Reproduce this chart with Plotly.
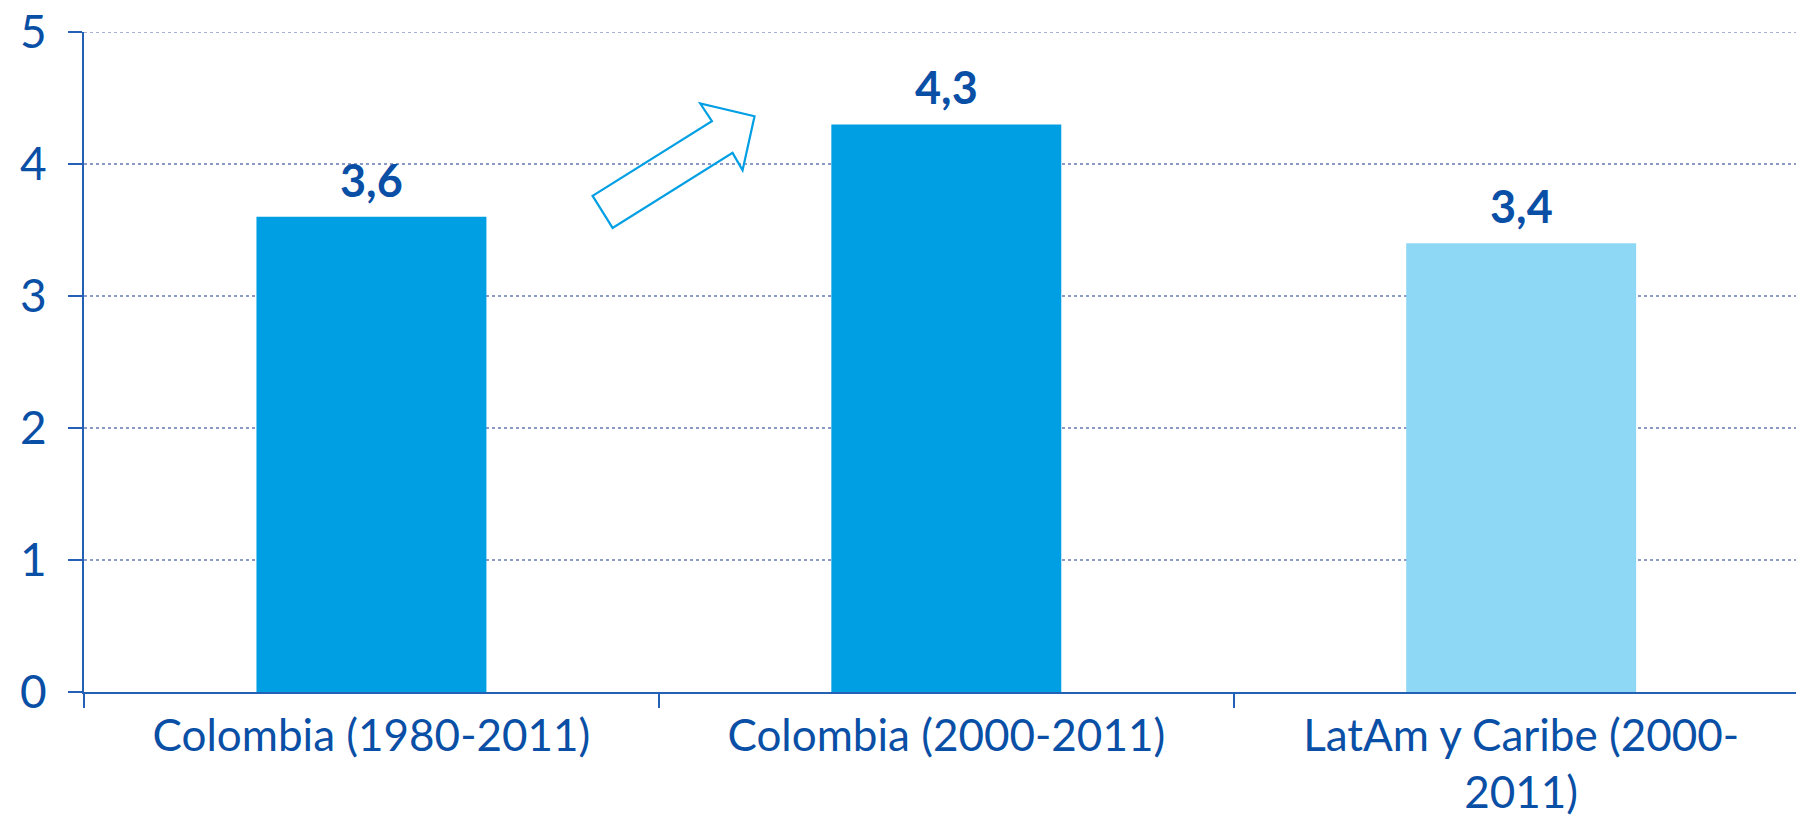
import plotly.graph_objects as go

# Average annual growth (%)
categories = ["Colombia (1980-2011)", "Colombia (2000-2011)", "LatAm y Caribe (2000-<br>2011)"]
values = [3.6, 4.3, 3.4]
bar_colors = ["#009FE3", "#009FE3", "#8ED8F6"]
y_ticks = [0, 1, 2, 3, 4, 5]

DARK = "#0A4FA6"
AXIS = "#2460B5"
GRID = "#8C9AC6"
FONT = "Lato"

fig = go.Figure()
fig.add_trace(go.Bar(
    x=categories,
    y=values,
    marker=dict(color=bar_colors, line=dict(width=0)),
    width=0.4,
    hoverinfo="skip",
))

# value labels above each bar
for c, v in zip(categories, values):
    fig.add_annotation(
        x=c, y=v, text=f"<b>{v:.1f}</b>".replace(".", ","),
        showarrow=False, yanchor="bottom", yshift=8,
        font=dict(family=FONT, size=45, color=DARK),
    )

# hollow arrow between the two Colombia bars (data coordinates)
arrow_x = [0.3847, 0.5923, 0.5720, 0.6664, 0.6456, 0.6282, 0.4195]
arrow_y = [3.758, 4.324, 4.458, 4.362, 3.953, 4.084, 3.516]
path = "M " + " L ".join(f"{x},{y}" for x, y in zip(arrow_x, arrow_y)) + " Z"
fig.add_shape(type="path", path=path, xref="x", yref="y",
              line=dict(color="#009FE3", width=2.2), fillcolor="rgba(0,0,0,0)")

# dotted gridline at the top of the value range
fig.add_shape(type="line", xref="paper", yref="y", x0=0, x1=1,
              y0=max(y_ticks), y1=max(y_ticks),
              line=dict(color=GRID, width=1.5, dash="dot"), layer="below")

W, H = 1796, 822
left, top, bottom = 83.6, 31.5, 130.2
cat_px = 575.0
x_end = -0.5 + (W - left) / cat_px

fig.update_layout(
    width=W, height=H,
    margin=dict(l=left, r=0, t=top, b=bottom, pad=0),
    paper_bgcolor="white", plot_bgcolor="white",
    showlegend=False,
    separators=",.",
    font=dict(family=FONT, color=DARK),
    bargap=0.6,
)
fig.update_xaxes(
    range=[-0.5, x_end], type="category",
    showline=True, linecolor=AXIS, linewidth=2,
    ticks="outside", ticklen=14, tickwidth=1.5, tickcolor=AXIS,
    tickson="boundaries",
    showgrid=False, zeroline=False,
    tickfont=dict(family=FONT, size=44, color=DARK),
    ticklabelstandoff=4,
    automargin=False,
)
fig.update_yaxes(
    range=[0, 5], tickvals=y_ticks,
    showline=True, linecolor=AXIS, linewidth=2,
    ticks="outside", ticklen=14, tickwidth=2, tickcolor=AXIS,
    showgrid=True, gridcolor=GRID, gridwidth=1.5, griddash="dot",
    zeroline=False,
    tickfont=dict(family=FONT, size=46, color=DARK),
    ticklabelstandoff=12,
    automargin=False,
)

fig.write_html("out.html")
